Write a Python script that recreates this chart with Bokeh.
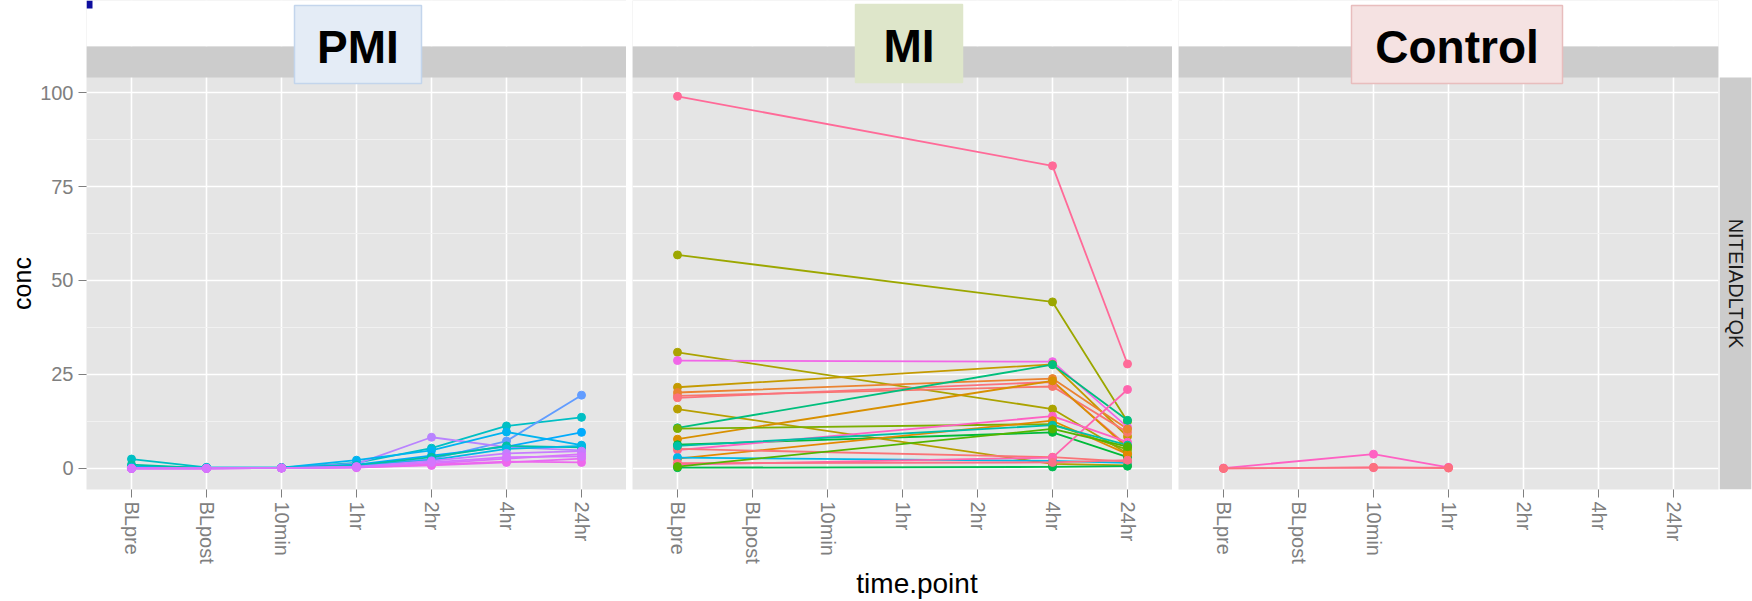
import math
from bokeh.plotting import figure
from bokeh.layouts import row, column
from bokeh.models import Range1d, FixedTicker, Grid
from bokeh.core.properties import value
from bokeh.embed import file_html
from bokeh.resources import INLINE

# ---------------- data ----------------
time_points = ["BLpre", "BLpost", "10min", "1hr", "2hr", "4hr", "24hr"]
facet_names = ["PMI", "MI", "Control"]
row_strip_label = "NITEIADLTQK"
x_title = "time.point"
y_title = "conc"
y_ticks = [0, 25, 50, 75, 100]
y_minor_ticks = [12.5, 37.5, 62.5, 87.5]

pmi_colors = ["#00BFC4", "#619CFF", "#B983FF", "#00B4F0", "#00ABFD", "#00C1A3",
              "#00B9E3", "#DB72FB", "#E76BF3", "#C77CFF", "#ED68ED", "#D575FE"]
pmi_values = [
    [2.5, 0.3, 0.2, 1.5, 5.4, 11.3, 13.6],
    [0.0, 0.1, 0.2, 0.8, 2.5, 7.3, 19.5],
    [0.1, 0.0, 0.2, 1.2, 8.3, 5.7, 4.8],
    [0.6, 0.2, 0.2, 2.2, 4.8, 9.7, 6.2],
    [0.2, 0.1, 0.2, 1.0, 3.4, 5.8, 9.6],
    [1.0, 0.1, 0.2, 0.8, 3.0, 6.0, 5.6],
    [0.3, 0.1, 0.2, 0.6, 2.2, 5.2, 6.0],
    [0.0, 0.0, 0.1, 0.4, 1.3, 2.6, 3.8],
    [0.0, 0.0, 0.1, 0.3, 0.8, 1.6, 2.6],
    [0.0, 0.0, 0.1, 0.5, 2.0, 4.0, 4.6],
    [0.0, 0.0, 0.1, 0.2, 1.0, 1.8, 1.6],
    [0.0, 0.0, 0.1, 0.3, 1.6, 3.0, 3.2],
]

mi_colors = ["#FF6A98", "#9CA700", "#ABA300", "#F166E8", "#C49A00", "#F8766D",
             "#EA8331", "#FB727C", "#B79F00", "#00BF7D", "#D89000", "#7CAE00",
             "#00BA38", "#FF61C3", "#E38900", "#00B8E7", "#FA7477", "#FF65AE",
             "#00BC51", "#FD6F86", "#00C0A8", "#53B400"]
mi_values = [
    [99.0, None, None, None, None, 80.5, 27.8],
    [56.8, None, None, None, None, 44.3, 12.5],
    [30.9, None, None, None, None, 15.8, 4.0],
    [28.7, None, None, None, None, 28.4, 11.0],
    [21.6, None, None, None, None, 27.7, 8.5],
    [19.3, None, None, None, None, 21.8, 9.6],
    [20.2, None, None, None, None, 23.9, 10.5],
    [18.8, None, None, None, None, 23.0, 6.0],
    [15.8, None, None, None, None, 1.2, 0.8],
    [10.8, None, None, None, None, 27.6, 12.8],
    [7.8, None, None, None, None, 23.3, 5.5],
    [10.6, None, None, None, None, 11.8, 5.0],
    [6.3, None, None, None, None, 9.6, 3.0],
    [4.9, None, None, None, None, 13.9, 7.0],
    [2.6, None, None, None, None, 12.7, 3.8],
    [2.9, None, None, None, None, 2.0, 1.5],
    [5.2, None, None, None, None, 3.0, 1.8],
    [1.0, None, None, None, None, 2.9, 21.0],
    [0.2, None, None, None, None, 0.4, 0.6],
    [1.4, None, None, None, None, 1.6, 2.2],
    [6.0, None, None, None, None, 11.5, 6.2],
    [0.5, None, None, None, None, 10.5, 5.8],
]

control_colors = ["#FF61C3", "#FF6A98", "#FC717F"]
control_values = [
    [0.1, None, 3.8, 0.3, None, None, None],
    [0.0, None, 0.2, 0.2, None, None, None],
    [0.0, None, 0.3, 0.1, None, None, None],
]

facet_colors = [pmi_colors, mi_colors, control_colors]
facet_values = [pmi_values, mi_values, control_values]

# ---------------- layout / style ----------------
FONT = "Liberation Sans"
PAGE_W = 1752
FRAME_W = 540
FRAME_H = 489          # frame spans from the top of the page to the panel bottom
PANEL_TOP_PX = 77
STRIP_TOP_PX = 46
BOTTOM_BORDER = 80
TITLE_H = 601 - FRAME_H - BOTTOM_BORDER
Y_LO, Y_HI = -5.6, 104.0
px_per_unit = (FRAME_H - PANEL_TOP_PX) / (Y_HI - Y_LO)
Y_TOP = Y_HI + PANEL_TOP_PX / px_per_unit

box_specs = [  # left, right, top, bottom (frame px), fill, border
    (208, 335, 5, 83, "#E4ECF6", "#C3D5EC"),
    (223, 330, 4, 82, "#DEE6CA", "#DEE6CA"),
    (173, 384, 5, 83, "#F5E2E2", "#E8BDBD"),
]
CONC_W = 37
left_borders = [47, 6, 6]
right_borders = [0, 0, 1]
STRIP_W = 32

shared_y = Range1d(Y_LO, Y_TOP)


def hide_grids(f):
    for g in list(f.grid):
        g.visible = False


def make_panel(i):
    first = i == 0
    p = figure(frame_width=FRAME_W, frame_height=FRAME_H,
               x_range=Range1d(0.4, len(time_points) + 0.6), y_range=shared_y,
               output_backend="svg", toolbar_location=None, tools="",
               x_axis_location="below", y_axis_location="left" if first else None,
               min_border_left=left_borders[i], min_border_right=right_borders[i],
               min_border_top=0, min_border_bottom=BOTTOM_BORDER,
               background_fill_color="#E5E5E5", border_fill_color="white",
               outline_line_color=None)
    p.extra_x_ranges = {"px": Range1d(0, FRAME_W)}
    p.extra_y_ranges = {"px": Range1d(FRAME_H, 0)}

    yticker = FixedTicker(ticks=y_ticks, minor_ticks=y_minor_ticks)
    if first:
        ax = p.yaxis[0]
        ax.ticker = yticker
        ax.axis_line_color = None
        ax.major_tick_line_color = "#7F7F7F"
        ax.major_tick_out = 8
        ax.major_tick_in = 0
        ax.minor_tick_line_color = None
        ax.major_label_standoff = 5
        ax.major_label_text_color = "#7F7F7F"
        ax.major_label_text_font = FONT
        ax.major_label_text_font_size = "20px"
        ygrid = p.ygrid[0]
    else:
        for g in list(p.ygrid):
            g.visible = False
        ygrid = Grid(dimension=1, ticker=yticker)
        p.add_layout(ygrid)
    ygrid.grid_line_color = "white"
    ygrid.grid_line_width = 1.6
    ygrid.minor_grid_line_color = "#F2F2F2"
    ygrid.minor_grid_line_width = 0.9

    xa = p.xaxis[0]
    xa.ticker = FixedTicker(ticks=list(range(1, len(time_points) + 1)))
    xa.major_label_overrides = {k + 1: t for k, t in enumerate(time_points)}
    xa.major_label_orientation = "vertical"
    xa.axis_line_color = None
    xa.major_tick_line_color = "#7F7F7F"
    xa.major_tick_out = 8
    xa.major_tick_in = 0
    xa.minor_tick_line_color = None
    xa.major_label_standoff = 4
    xa.major_label_text_color = "#7F7F7F"
    xa.major_label_text_font = FONT
    xa.major_label_text_font_size = "20px"
    p.xgrid[0].grid_line_color = "white"
    p.xgrid[0].grid_line_width = 1.6

    # data: lines first, then points (as in the original)
    series = []
    for color, vals in zip(facet_colors[i], facet_values[i]):
        xs = [k + 1 for k, v in enumerate(vals) if v is not None]
        ys = [v for v in vals if v is not None]
        series.append((color, xs, ys))
    for color, xs, ys in series:
        p.line(xs, ys, line_color=color, line_width=1.8)
    for color, xs, ys in series:
        p.scatter(xs, ys, size=8, fill_color=color, line_color=color)

    # area above the panel: white cover, grey strip, title box
    p.quad(left=0, right=FRAME_W, top=0, bottom=STRIP_TOP_PX,
           x_range_name="px", y_range_name="px", fill_color="white", line_color=None)
    p.quad(left=0, right=FRAME_W, top=STRIP_TOP_PX, bottom=PANEL_TOP_PX,
           x_range_name="px", y_range_name="px", fill_color="#CCCCCC", line_color=None)
    l, r, t, b, fc, lc = box_specs[i]
    p.quad(left=l, right=r, top=t, bottom=b, x_range_name="px", y_range_name="px",
           fill_color=fc, line_color=lc, line_width=1.5)
    p.text(x=[(l + r) / 2], y=[(t + b) / 2 + 2], text=[facet_names[i]],
           x_range_name="px", y_range_name="px", text_font=value(FONT),
           text_font_style="bold", text_font_size="46px", text_align="center",
           text_baseline="middle", text_color="black")
    if first:
        p.quad(left=0, right=6, top=0, bottom=8, x_range_name="px", y_range_name="px",
               fill_color="#0D0D9E", line_color=None)
    return p


def plain_fig(width, height, right_border=0, bottom_border=0):
    f = figure(frame_width=width, frame_height=height,
               x_range=Range1d(0, width), y_range=Range1d(height, 0),
               output_backend="svg", toolbar_location=None, tools="",
               x_axis_location=None, y_axis_location=None,
               min_border_left=0, min_border_right=right_border, min_border_top=0,
               min_border_bottom=bottom_border, background_fill_color="white",
               border_fill_color="white", outline_line_color=None)
    hide_grids(f)
    return f


panel_mid_px = (PANEL_TOP_PX + FRAME_H) / 2

conc_fig = plain_fig(CONC_W, FRAME_H, 0, BOTTOM_BORDER)
conc_fig.text(x=[21], y=[panel_mid_px], text=[y_title], angle=math.pi / 2,
              text_font=value(FONT), text_font_size="25px", text_align="center",
              text_baseline="middle", text_color="black")

strip_fig = plain_fig(STRIP_W, FRAME_H, 3, BOTTOM_BORDER)
strip_fig.quad(left=0, right=STRIP_W, top=PANEL_TOP_PX, bottom=FRAME_H,
               fill_color="#CCCCCC", line_color=None)
strip_fig.text(x=[STRIP_W / 2], y=[panel_mid_px], text=[row_strip_label], angle=-math.pi / 2,
               text_font=value(FONT), text_font_size="20px", text_align="center",
               text_baseline="middle", text_color="#1A1A1A")

panels = [make_panel(i) for i in range(3)]

# x-axis title, centred under the whole facet area (panels + right strip)
area_left = CONC_W + left_borders[0]
area_right = PAGE_W - 3
title_fig = plain_fig(PAGE_W, TITLE_H)
title_fig.text(x=[(area_left + area_right) / 2], y=[14], text=[x_title],
               text_font=value(FONT), text_font_size="28px", text_align="center",
               text_baseline="middle", text_color="black")

layout = column(row(conc_fig, *panels, strip_fig), title_fig)

open("out.html", "w").write(file_html(layout, INLINE))
